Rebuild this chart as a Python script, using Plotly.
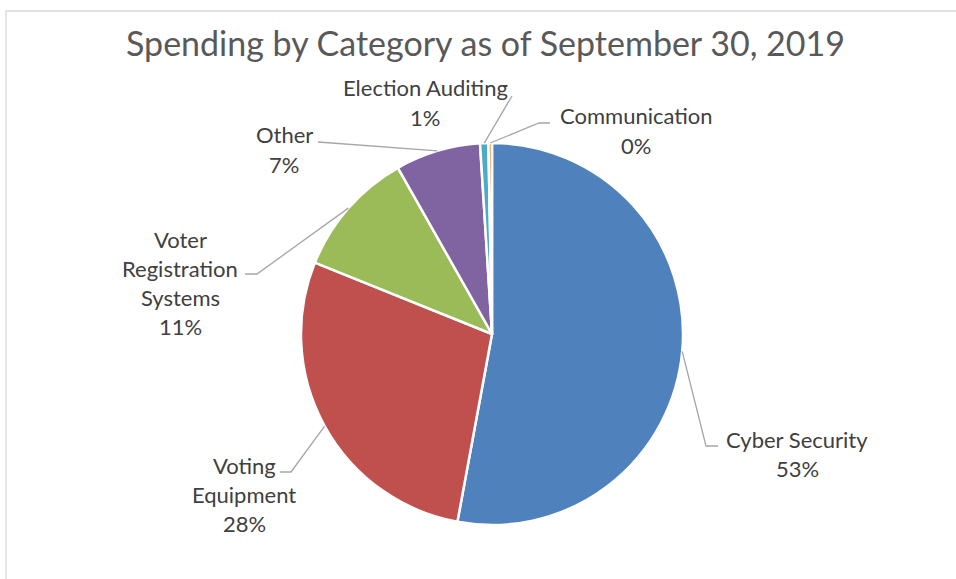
import math
import plotly.graph_objects as go

# ---- data ----
categories = ["Cyber Security", "Voting Equipment", "Voter Registration Systems",
              "Other", "Election Auditing", "Communication"]
values = [52.9, 28.2, 10.7, 7.2, 0.7, 0.3]
label_lines = [["Cyber Security"], ["Voting", "Equipment"], ["Voter", "Registration", "Systems"],
               ["Other"], ["Election Auditing"], ["Communication"]]
colors = ["#4F81BD", "#C0504D", "#9BBB59", "#8064A2", "#4BACC6", "#F79646"]
title_text = "Spending by Category as of September 30, 2019"

# ---- layout constants (pixels) ----
W, H = 956, 579
CX, CY, R = 492, 334, 191
# label centre (x, y of first line) and leader elbow / end points
label_pos = [(797, 439), (244, 465), (180, 239), (284, 135), (425, 88), (636, 116)]
leader_pts = [[(706, 446), (718, 446)],
              [(291, 472), (280, 472)],
              [(257, 274), (245, 274)],
              [(318, 142)],
              [(512, 96)],
              [(539, 123), (550, 123)]]
LINE_GAP = 29.3

def px(x):
    return x / W

def py(y):
    return 1 - y / H

fig = go.Figure(go.Pie(
    labels=categories, values=values, sort=False, direction="clockwise", rotation=0,
    marker=dict(colors=colors, line=dict(color="white", width=2.5)),
    textinfo="none", hoverinfo="label+percent", showlegend=False,
    domain=dict(x=[px(CX - R), px(CX + R)], y=[py(CY + R), py(CY - R)]),
))

total = sum(values)
annotations = []
shapes = []
cum = 0.0
for i, v in enumerate(values):
    mid = (cum + v / 2) / total * 2 * math.pi
    cum += v
    sx = CX + R * math.sin(mid)
    sy = CY - R * math.cos(mid)
    pts = [(sx, sy)] + leader_pts[i]
    path = "M " + " L ".join(f"{px(x):.5f},{py(y):.5f}" for x, y in pts)
    shapes.append(dict(type="path", path=path, xref="paper", yref="paper",
                       line=dict(color="#A6A6A6", width=1.3)))
    pct = f"{round(v / total * 100)}%"
    lines = label_lines[i] + [pct]
    lx, ly = label_pos[i]
    for j, t in enumerate(lines):
        annotations.append(dict(text=t, x=px(lx), y=py(ly + j * LINE_GAP), xref="paper", yref="paper",
                                showarrow=False, xanchor="center", yanchor="middle",
                                font=dict(family="Lato", size=22, color="#404040")))

annotations.append(dict(text=title_text, x=px(485), y=py(42), xref="paper", yref="paper",
                        showarrow=False, xanchor="center", yanchor="middle",
                        font=dict(family="Lato", size=34, color="#595959")))

# chart area border (only top and left visible)
shapes.append(dict(type="rect", xref="paper", yref="paper", x0=px(6), x1=1.2, y0=-0.2, y1=py(11),
                   line=dict(color="#D9D9D9", width=1.3), fillcolor="rgba(0,0,0,0)", layer="below"))

fig.update_layout(width=W, height=H, margin=dict(l=0, r=0, t=0, b=0),
                  paper_bgcolor="white", plot_bgcolor="white",
                  annotations=annotations, shapes=shapes)

fig.write_html("out.html", config={"displayModeBar": False},
               post_script="document.body.style.margin='0';")
